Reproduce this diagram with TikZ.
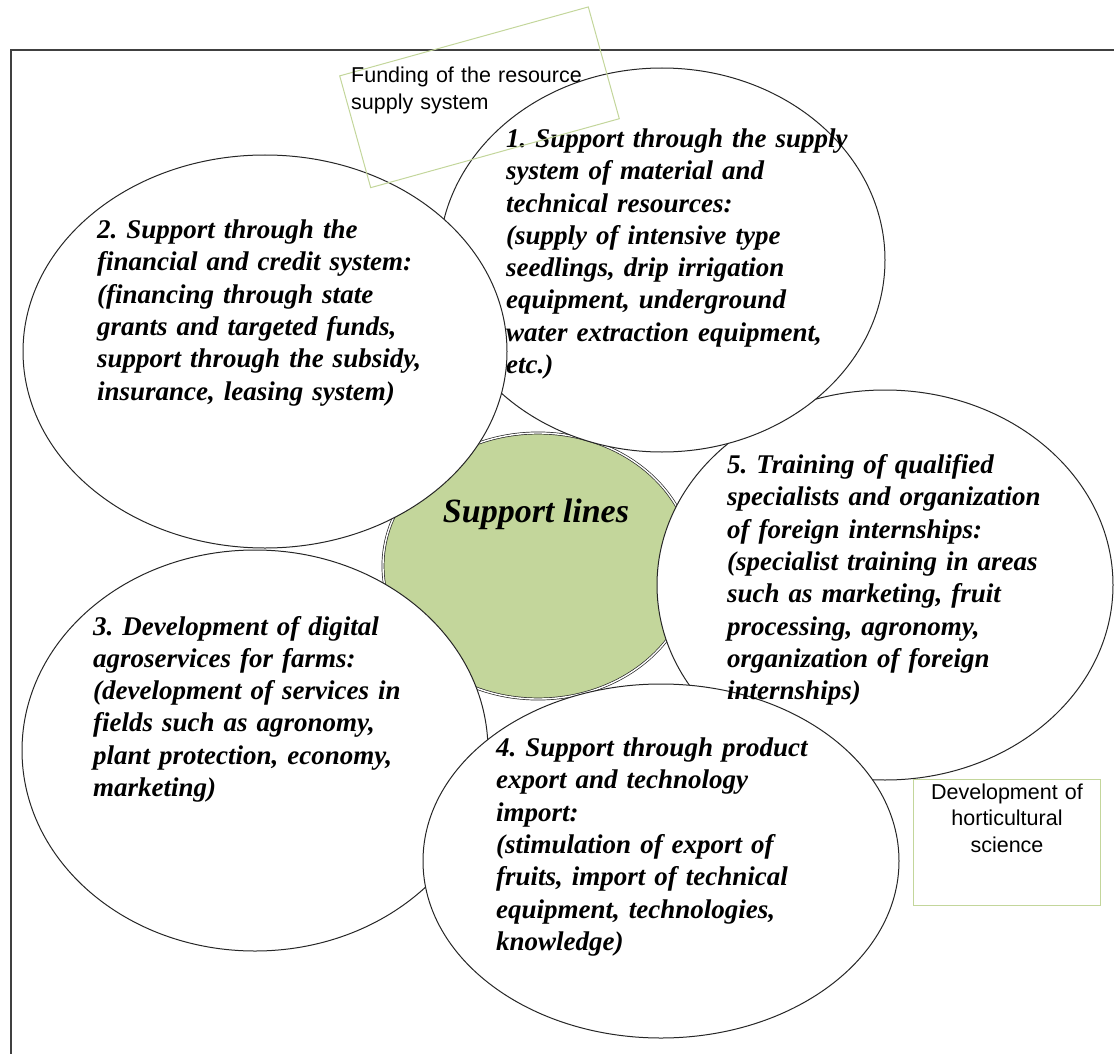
\documentclass[tikz,border=0pt]{standalone}
\usepackage{fontspec}
\setmainfont{Liberation Serif}
\newfontfamily\boxfont{Liberation Sans}
\usetikzlibrary{shapes.geometric}
\frenchspacing
\definecolor{leafgreen}{HTML}{C3D69B}
\definecolor{boxgreen}{HTML}{C3D69B}
\tikzset{
  lineoval/.style={ellipse,draw=black!85,line width=1pt,fill=white,inner sep=0pt},
  linetext/.style={anchor=base west,inner sep=0pt,text width=420pt,align=left,
    font=\fontsize{27}{32.3}\selectfont\bfseries\itshape},
  notebox/.style={draw=boxgreen,line width=1pt,inner sep=0pt},
  notetext/.style={inner sep=0pt,font=\boxfont\fontsize{21.5}{26.8}\selectfont}
}

\begin{document}
\begin{tikzpicture}[x=1pt,y=-1pt]
\clip (0,0) rectangle (1114,1054);
\draw[black!75,line width=1.6pt](11,50) rectangle (1140,1080);
% centre
\node[ellipse,draw=black!85,line width=0.7pt,double=white,double distance=1.4pt,
  fill=leafgreen,minimum width=310pt,minimum height=266pt] (hub) at (538,566) {};
% lines of support
\node[lineoval,minimum width=456pt,minimum height=390pt] (oval5) at (885,585) {};
\node[lineoval,minimum width=446pt,minimum height=384pt] (oval1) at (662,260) {};
\node[lineoval,minimum width=484pt,minimum height=393pt] (oval2) at (265,351.5) {};
\node[lineoval,minimum width=466pt,minimum height=401pt] (oval3) at (255,750.5) {};
\node[lineoval,minimum width=476pt,minimum height=354pt] (oval4) at (661,861) {};
\node[linetext] (text1) at (506,147.5) {1. Support through the supply\\ system of material and\\ technical resources:\\ (supply of intensive type\\ seedlings, drip irrigation\\ equipment, underground\\ water extraction equipment,\\ etc.)};
\node[linetext] (text2) at (97,238.5) {2. Support through the\\ financial and credit system:\\ (financing through state\\ grants and targeted funds,\\ support through the subsidy,\\ insurance, leasing system)};
\node[linetext] (text3) at (93,635) {3. Development of digital\\ agroservices for farms:\\ (development of services in\\ fields such as agronomy,\\ plant protection, economy,\\ marketing)};
\node[linetext] (text4) at (496,756.5) {4. Support through product\\ export and technology\\ import:\\ (stimulation of export of\\ fruits, import of technical\\ equipment, technologies,\\ knowledge)};
\node[linetext] (text5) at (727,473.5) {5. Training of qualified\\ specialists and organization\\ of foreign internships:\\ (specialist training in areas\\ such as marketing, fruit\\ processing, agronomy,\\ organization of foreign\\ internships)};
\node[anchor=base,inner sep=0pt,font=\fontsize{34}{40}\selectfont\bfseries\itshape] (hubtext) at (536,522) {Support lines};
% side notes
\node[notebox,minimum width=258pt,minimum height=116pt,rotate=15.5] (fundbox) at (479.5,97.3) {};
\node[notetext,anchor=base west,text width=260pt,align=left] (fundtext) at (351,83) {Funding of the resource\\ supply system};
\node[notebox,minimum width=187pt,minimum height=126pt] (scibox) at (1006.5,842) {};
\node[notetext,anchor=base,text width=190pt,align=center] (scitext) at (1007,799) {Development of\\ horticultural\\ science};
\end{tikzpicture}
\end{document}
